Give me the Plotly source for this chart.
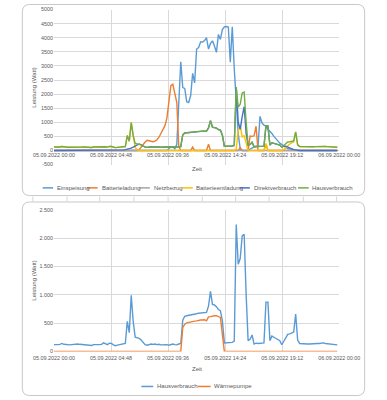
import plotly.graph_objects as go
import pandas as pd

# ---------------- data (10-minute values, 05.09.2022) ----------------
times = pd.date_range("2022-09-05 00:00", periods=144, freq="10min")

hausverbrauch = [
    120, 115, 120, 125, 140, 125,
    120, 115, 115, 120, 125, 125,
    130, 125, 120, 125, 115, 110,
    100, 105, 120, 125, 120, 120,
    125, 150, 130, 120, 145, 140,
    115, 100, 110, 120, 125, 130,
    140, 530, 330, 990, 520, 250,
    240, 230, 200, 150, 120, 110,
    125, 130, 125, 130, 120, 125,
    115, 120, 125, 120, 110, 115,
    130, 120, 115, 130, 140, 550,
    620, 630, 635, 640, 650, 655,
    665, 675, 680, 685, 680, 690,
    800, 1060, 830, 820, 790, 740,
    720, 540, 150, 150, 150, 150,
    160, 180, 2240, 1540, 1640, 2040,
    2070, 1000, 190, 215, 290, 130,
    145, 140, 145, 140, 150, 870,
    870, 190, 270, 250, 230, 210,
    190, 117, 180, 260, 300, 310,
    320, 340, 660, 200, 140, 135,
    130, 130, 130, 130, 135, 130,
    135, 140, 140, 145, 150, 140,
    135, 130, 125, 120, 110, 115,
]

waermepumpe = [0] * 60 + [
    0, 0, 0, 0, 0, 420,
    480, 505, 515, 520, 530, 535,
    540, 550, 555, 555, 560, 540,
    610, 615, 625, 630, 630, 610,
    600, 300, 0, 0, 0, 0,
] + [0] * 54

einspeisung = [0] * 54 + [
    0, 0, 0, 0, 60, 130,
    120, 60, 220, 1700, 3150, 2230,
    2200, 1730, 1700, 1950, 2740, 2400,
    3600, 3650, 3850, 3850, 3900, 4000,
    3600, 3800, 3890, 3710, 3480, 4120,
    3940, 4290, 4390, 4400, 4380, 3130,
    4390, 2900, 1730, 600, 50, 0,
    0, 0, 0, 50, 100, 130,
    150, 150, 1210, 980, 900, 860,
    750, 690, 600, 500, 400, 340,
    260, 200, 160, 110, 70, 50,
    30, 20, 10, 0, 0, 0,
] + [0] * 18

batterieladung = [0] * 42 + [
    0, 30, 130, 230, 300, 360,
    350, 330, 310, 330, 380, 470,
    600, 740, 880, 1150, 1850, 2300,
    2350, 1950, 1700, 150, 0, 0,
    0, 0, 0, 0, 120, 0,
    0, 0, 0, 0, 0, 0,
    220, 0, 0, 0, 0, 0,
    0, 0, 0, 0, 0, 0,
    0, 0, 0, 0, 100, 0,
    0, 0, 0, 510, 500, 520,
    860, 0, 0, 0, 0, 220,
] + [0] * 36

netzbezug = [0] * 144

batterieentladung = [
    120, 115, 120, 125, 140, 125,
    120, 115, 115, 120, 125, 125,
    130, 125, 120, 125, 115, 110,
    100, 105, 120, 125, 120, 120,
    125, 150, 130, 120, 145, 140,
    115, 100, 110, 120, 125, 130,
    140, 530, 330, 990, 450, 100,
    30, 0, 0, 0, 0, 0,
] + [0] * 42 + [
    0, 0, 50, 700, 900, 480,
    520, 250, 0, 0, 0, 0,
    0, 0, 0, 0, 0, 250,
    0, 0, 0, 0, 0, 0,
    0, 0, 30, 110, 180, 230,
    270, 310, 640, 200, 140, 135,
    130, 130, 130, 130, 135, 130,
    135, 140, 140, 145, 150, 140,
    135, 130, 125, 120, 110, 115,
]

direktverbrauch = [0] * 33 + [
    5, 10, 20,
    30, 40, 60, 80, 120, 160,
    210, 230, 200, 150, 120, 110,
    125, 130, 125, 130, 120, 125,
    115, 120, 125, 120, 110, 115,
    130, 120, 115, 130, 140, 550,
    620, 630, 635, 640, 650, 655,
    665, 675, 680, 685, 680, 690,
    800, 1060, 830, 820, 790, 740,
    720, 540, 150, 150, 150, 150,
    160, 180, 2240, 1000, 750, 1200,
    1560, 600, 190, 215, 290, 130,
    145, 140, 145, 140, 150, 870,
    870, 190, 270, 250, 230, 210,
    190, 117, 150, 150, 120, 80,
    50, 30, 20, 0, 0, 0,
] + [0] * 18

top_series = [
    ("Einspeisung", einspeisung, "#5B9BD5"),
    ("Batterieladung", batterieladung, "#ED7D31"),
    ("Netzbezug", netzbezug, "#A5A5A5"),
    ("Batterieentladung", batterieentladung, "#FFC000"),
    ("Direktverbrauch", direktverbrauch, "#4472C4"),
    ("Hausverbrauch", hausverbrauch, "#70AD47"),
]
bottom_series = [
    ("Hausverbrauch", hausverbrauch, "#5B9BD5"),
    ("Wärmepumpe", waermepumpe, "#ED7D31"),
]

x_tickvals = ["2022-09-05 00:00", "2022-09-05 04:48", "2022-09-05 09:36",
              "2022-09-05 14:24", "2022-09-05 19:12", "2022-09-06 00:00"]
x_ticktext = ["05.09.2022 00:00", "05.09.2022 04:48", "05.09.2022 09:36",
              "05.09.2022 14:24", "05.09.2022 19:12", "06.09.2022 00:00"]
top_yvals = list(range(-500, 5001, 500))
top_ytext = [str(v) for v in top_yvals]
bot_yvals = [0, 500, 1000, 1500, 2000, 2500]
bot_ytext = ["0", "500", "1.000", "1.500", "2.000", "2.500"]

# ---------------- figure ----------------
W, H = 387, 400
def X(px): return px / W
def Y(py): return 1 - py / H

FONT = "Liberation Sans"
TXT = "#595959"
GRID = "#D9D9D9"

fig = go.Figure()
for name, vals, col in top_series:
    fig.add_trace(go.Scatter(x=times, y=vals, name=name, mode="lines",
                             line=dict(color=col, width=1.4),
                             xaxis="x", yaxis="y", showlegend=False))
for name, vals, col in bottom_series:
    fig.add_trace(go.Scatter(x=times, y=vals, name=name, mode="lines",
                             line=dict(color=col, width=1.4),
                             xaxis="x2", yaxis="y2", showlegend=False))

top_dom = [Y(164), Y(6.7)]
bot_dom = [Y(353.7), Y(210)]
zero_pos = top_dom[0] + (500 / 5500) * (top_dom[1] - top_dom[0])

xcommon = dict(type="date", range=["2022-09-05 00:00", "2022-09-06 00:00"],
               tickvals=x_tickvals, ticktext=x_ticktext, showgrid=True,
               gridcolor=GRID, gridwidth=1, zeroline=False, showline=False,
               ticks="", tickfont=dict(size=5.4, color=TXT, family=FONT),
               domain=[X(37), X(357)])

fig.update_layout(
    width=W, height=H, margin=dict(l=0, r=0, t=0, b=0),
    paper_bgcolor="white", plot_bgcolor="white", showlegend=False,
    hovermode=False,
    font=dict(family=FONT, color=TXT),
    xaxis=dict(**xcommon, anchor="free", position=zero_pos),
    yaxis=dict(domain=top_dom, range=[-500, 5000], tickvals=top_yvals,
               ticktext=top_ytext, showgrid=True, gridcolor=GRID,
               zeroline=False, showline=False, ticks="",
               tickfont=dict(size=5.4, color=TXT, family=FONT), anchor="x"),
    xaxis2=dict(**xcommon, anchor="y2", ticklabelstandoff=2),
    yaxis2=dict(domain=bot_dom, range=[0, 2500], tickvals=bot_yvals,
                ticktext=bot_ytext, showgrid=True, gridcolor=GRID,
                zeroline=False, showline=False, ticks="",
                tickfont=dict(size=5.4, color=TXT, family=FONT), anchor="x2"),
)

shapes = []
annotations = []

def rounded_box(x0, y0, x1, y1, r):
    rx, ry = r / W, r / H
    a0, b0, a1, b1 = X(x0), Y(y0), X(x1), Y(y1)
    path = (f"M {a0+rx},{b0} L {a1-rx},{b0} Q {a1},{b0} {a1},{b0-ry} "
            f"L {a1},{b1+ry} Q {a1},{b1} {a1-rx},{b1} L {a0+rx},{b1} "
            f"Q {a0},{b1} {a0},{b1+ry} L {a0},{b0-ry} Q {a0},{b0} {a0+rx},{b0} Z")
    return dict(type="path", xref="paper", yref="paper", path=path,
                line=dict(color="#C8C8C8", width=1), layer="below")

shapes.append(rounded_box(1.5, 1.5, 385.5, 195.5, 8))
shapes.append(rounded_box(1.5, 202, 385.5, 398.5, 8))
for cx in [13.3, 51.7, 88.3, 126.7, 165, 203.3, 240.7, 278.3, 316.7, 354]:
    shapes.append(dict(type="line", xref="paper", yref="paper",
                       x0=X(cx), x1=X(cx), y0=Y(196.5), y1=Y(201.5),
                       line=dict(color="#D6D6D6", width=1), layer="below"))

def legend_item(name, col, lx0, lx1, tx, ly):
    shapes.append(dict(type="line", xref="paper", yref="paper",
                       x0=X(lx0), x1=X(lx1), y0=Y(ly), y1=Y(ly),
                       line=dict(color=col, width=1.5)))
    annotations.append(dict(text=name, xref="paper", yref="paper",
                            x=X(tx), y=Y(ly), xanchor="left", yanchor="middle",
                            showarrow=False,
                            font=dict(size=6, color=TXT, family=FONT)))

top_leg = [(24.3, 36, 37.7), (74, 86, 88.3), (132.7, 144.5, 146.5),
           (181, 192.7, 194.3), (245, 256.7, 259), (310.7, 322.7, 324.5)]
for (name, _, col), (a, b, c) in zip(top_series, top_leg):
    legend_item(name, col, a, b, c, 187.7)

bot_leg = [(135, 148.3, 150), (198.3, 212.7, 214)]
for (name, _, col), (a, b, c) in zip(bottom_series, bot_leg):
    legend_item(name, col, a, b, c, 389.3)

for cy in [86, 282]:
    annotations.append(dict(text="Leistung (Watt)", xref="paper", yref="paper",
                            x=X(14.5), y=Y(cy), textangle=-90, showarrow=False,
                            xanchor="center", yanchor="middle",
                            font=dict(size=6, color=TXT, family=FONT)))
for cy in [169, 372]:
    annotations.append(dict(text="Zeit", xref="paper", yref="paper",
                            x=X(197), y=Y(cy), showarrow=False,
                            xanchor="center", yanchor="middle",
                            font=dict(size=6, color=TXT, family=FONT)))

fig.update_layout(shapes=shapes, annotations=annotations)
fig.write_html("out.html",
               config={"displayModeBar": False, "staticPlot": True},
               post_script="document.body.style.margin='0px';"
                           "document.body.style.overflow='hidden';")
